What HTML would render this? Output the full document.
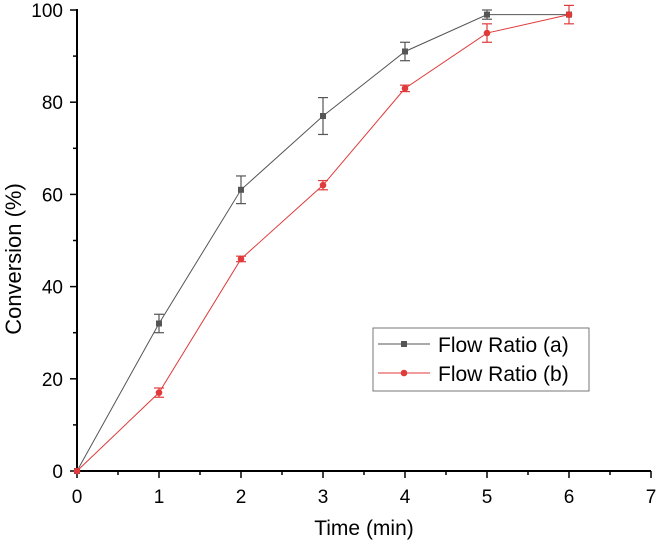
<!DOCTYPE html>
<html><head><meta charset="utf-8"><style>body{margin:0;background:#fff}svg{display:block;font-family:"Liberation Sans",Arial,sans-serif}</style></head>
<body>
<svg id="c" width="657" height="546"></svg>
<script>
const xValues=[0,1,2,3,4,5,6];
const seriesA=[0,32,61,77,91,99,99];
const errA=[0,2,3,4,2,1,0];
const seriesB=[0,17,46,62,83,95,99];
const errB=[0,1,0.6,1,0.7,2,2];
const xTicks=[0,1,2,3,4,5,6,7];
const yTicks=[0,20,40,60,80,100];
const seriesNames=["Flow Ratio (a)","Flow Ratio (b)"];
const NS="http://www.w3.org/2000/svg",svg=document.getElementById('c');
const X0=77,XS=82,Y0=471,YS=4.61;
const sx=v=>X0+v*XS, sy=v=>Y0-v*YS;
function mk(t,a,p){const e=document.createElementNS(NS,t);for(const k in a)e.setAttribute(k,a[k]);(p||svg).appendChild(e);return e;}
let ax=mk('line',{x1:X0,y1:Y0,x2:sx(7),y2:Y0,stroke:'#000','stroke-width':2});


let ay=mk('line',{x1:X0,y1:sy(100)-1,x2:X0,y2:Y0+1,stroke:'#000','stroke-width':2});


for(let i=0;i<=14;i++){const v=i/2;const l=i%2?4:7;mk('line',{x1:sx(v),y1:Y0,x2:sx(v),y2:Y0+l,stroke:'#000','stroke-width':1.5});}
for(let i=0;i<=10;i++){const v=i*10;const l=i%2?4:7;mk('line',{x1:X0-l,y1:sy(v),x2:X0,y2:sy(v),stroke:'#000','stroke-width':1.5});}
xTicks.forEach(v=>{const t=mk('text',{x:sx(v),y:Y0+32,'text-anchor':'middle','font-size':19});t.textContent=v;

});
yTicks.forEach(v=>{const t=mk('text',{x:X0-14,y:sy(v)+7,'text-anchor':'end','font-size':19});t.textContent=v;

});
let xt=mk('text',{x:sx(3.5),y:535,'text-anchor':'middle','font-size':21});xt.textContent='Time (min)';


let yt=mk('text',{x:0,y:0,'text-anchor':'middle','font-size':22,transform:'translate(21,259) rotate(-90)'});yt.textContent='Conversion (%)';


function series(vals,errs,col,sq,name){
  const g=mk('g',{});
  
  
  mk('polyline',{points:vals.map((v,i)=>sx(xValues[i])+','+sy(v)).join(' '),fill:'none',stroke:col,'stroke-width':1},g);
  vals.forEach((v,i)=>{const x=sx(xValues[i]);
    if(errs[i]>0){mk('line',{x1:x,y1:sy(v+errs[i]),x2:x,y2:sy(v-errs[i]),stroke:col,'stroke-width':1.2},g);
      [v+errs[i],v-errs[i]].forEach(e=>mk('line',{x1:x-5,x2:x+5,y1:sy(e),y2:sy(e),stroke:col,'stroke-width':1.2},g));}
    const m=sq?mk('rect',{x:x-3,y:sy(v)-3,width:6,height:6,fill:col},g):mk('circle',{cx:x,cy:sy(v),r:3.3,fill:col},g);
    
    });
}
series(seriesA,errA,'#555',true,'series-a');
series(seriesB,errB,'#e03a3a',false,'series-b');
const lg=mk('g',{});


mk('rect',{x:373,y:328,width:216,height:63,fill:'#fff',stroke:'#777','stroke-width':1},lg);
[['#555',true,344],['#e03a3a',false,373]].forEach((d,i)=>{
  mk('line',{x1:378,x2:430,y1:d[2],y2:d[2],stroke:d[0],'stroke-width':1},lg);
  if(d[1])mk('rect',{x:401,y:d[2]-3,width:6,height:6,fill:d[0]},lg);else mk('circle',{cx:404,cy:d[2],r:3.3,fill:d[0]},lg);
  const t=mk('text',{x:438,y:d[2]+8,'font-size':21},lg);t.textContent=seriesNames[i];
  
  
});
</script>
</body></html>
